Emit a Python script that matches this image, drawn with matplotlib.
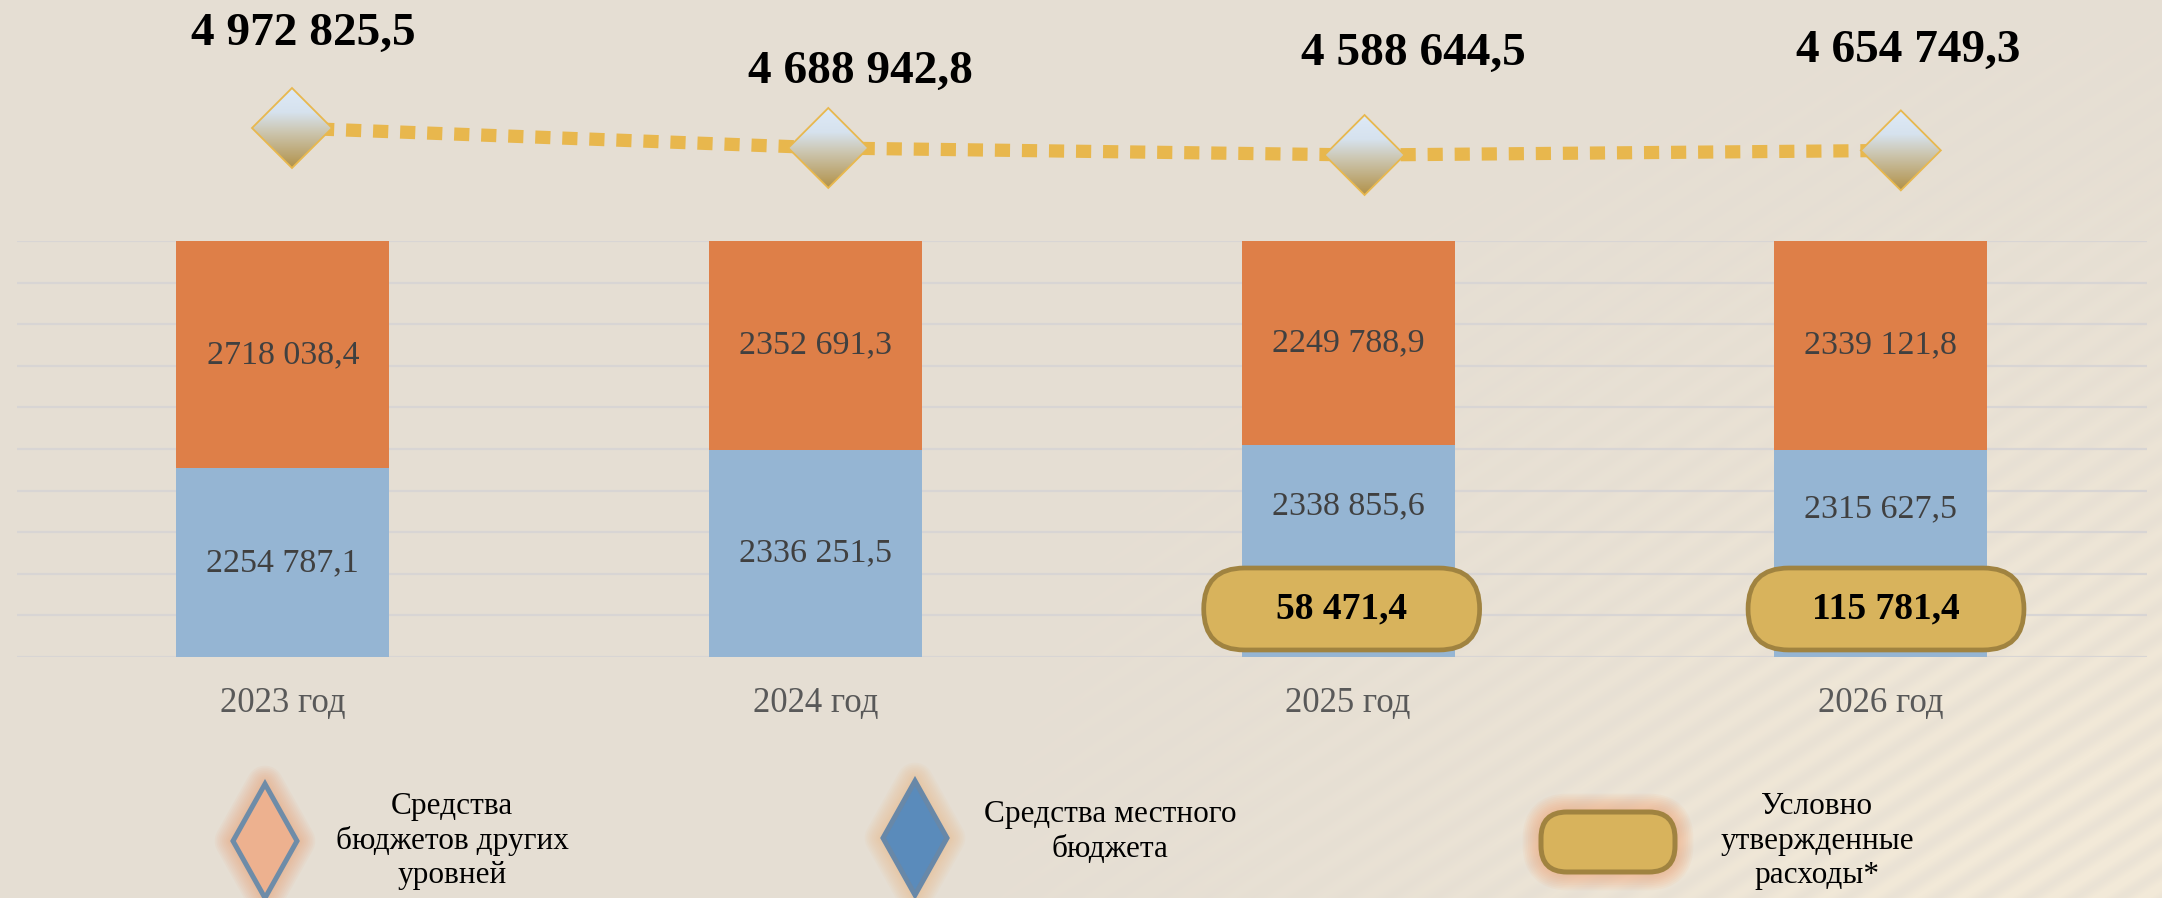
import numpy as np
import matplotlib.pyplot as plt
from matplotlib.patches import Polygon, FancyBboxPatch

# data
years = ['2023 год', '2024 год', '2025 год', '2026 год']
local = [2254787.1, 2336251.5, 2338855.6, 2315627.5]      # Средства местного бюджета
other = [2718038.4, 2352691.3, 2249788.9, 2339121.8]      # Средства бюджетов других уровней
totals = [4972825.5, 4688942.8, 4588644.5, 4654749.3]
conditional = [0, 0, 58471.4, 115781.4]                    # Условно утвержденные расходы

local_lbl = ['2254 787,1', '2336 251,5', '2338 855,6', '2315 627,5']
other_lbl = ['2718 038,4', '2352 691,3', '2249 788,9', '2339 121,8']
total_lbl = ['4 972 825,5', '4 688 942,8', '4 588 644,5', '4 654 749,3']
cond_lbl = ['', '', '58 471,4', '115 781,4']

legend_lbl = ['Средства\nбюджетов других\nуровней', 'Средства местного\nбюджета',
              'Условно\nутвержденные\nрасходы*']

# styles
W, H = 2162, 898
BG = '#E5DED3'
BLUE = '#95B5D3'
ORANGE = '#DE7F48'
GOLD = '#D8B35C'
GOLD_EDGE = '#A08340'
LINE = '#E8B74D'
SERIF = ['Liberation Serif', 'DejaVu Serif']

fig = plt.figure(figsize=(W / 100, H / 100), dpi=100, facecolor=BG)

# background with a soft light patch in the lower right
bgax = fig.add_axes([0, 0, 1, 1])
bgax.axis('off')
yy, xx = np.mgrid[0:H, 0:W]
base = np.array([229, 222, 211]) / 255
light = np.array([242, 233, 216]) / 255
blob = np.exp(-(((xx - 2150) / 700.0) ** 2 + ((yy - 950) / 560.0) ** 2))
streak = 0.7 + 0.3 * np.sin((xx * 0.55 + yy * 0.85) / 4.0)
w = np.clip(blob * streak * 1.15, 0, 1)[..., None]
bgax.imshow(base * (1 - w) + light * w, extent=(0, W, 0, H), aspect='auto')
bgax.set_xlim(0, W)
bgax.set_ylim(0, H)

# main 100% stacked bars
x = np.arange(len(years))
loc_share = np.array(local) / np.array(totals)
oth_share = np.array(other) / np.array(totals)

ax = fig.add_axes([16.5 / W, (H - 657) / H, 2130.5 / W, 416 / H])
ax.set_facecolor('none')
ax.bar(x, loc_share, width=0.4, color=BLUE, zorder=2)
ax.bar(x, oth_share, width=0.4, bottom=loc_share, color=ORANGE, zorder=2)
ax.set_xlim(-0.5, 3.5)
ax.set_ylim(0, 1)
ax.set_yticks(np.arange(0, 1.01, 0.1))
ax.yaxis.grid(True, color='#D8D5D4', lw=1.6)
ax.set_axisbelow(True)
ax.tick_params(left=False, labelleft=False, bottom=False, pad=18)
ax.set_xticks(x, years, fontsize=25, color='#595959', family=SERIF)
for s in ax.spines.values():
    s.set_visible(False)

pill_c, pill_h, pill_w = 0.1154, 0.197, 0.518
pill_dx = [0, 0, -0.012, 0.01]
for i in x:
    ax.text(i, loc_share[i] + oth_share[i] / 2, other_lbl[i], ha='center', va='center',
            fontsize=24.5, color='#404040', family=SERIF, zorder=3)
    if conditional[i]:
        top = pill_c + pill_h / 2
        ax.text(i, (loc_share[i] + top) / 2, local_lbl[i], ha='center', va='center',
                fontsize=24.5, color='#404040', family=SERIF, zorder=3)
        cx = i + pill_dx[i]
        ax.add_patch(FancyBboxPatch((cx - pill_w / 2, pill_c - pill_h / 2), pill_w, pill_h,
                                    boxstyle='round,pad=0,rounding_size=0.0765',
                                    mutation_aspect=1.28, fc=GOLD, ec=GOLD_EDGE, lw=3.4,
                                    zorder=4))
        ax.text(cx, pill_c, cond_lbl[i], ha='center', va='center', fontsize=27,
                fontweight='bold', family=SERIF, zorder=5)
    else:
        ax.text(i, loc_share[i] / 2, local_lbl[i], ha='center', va='center',
                fontsize=24.5, color='#404040', family=SERIF, zorder=3)

# totals line
ax2 = fig.add_axes([16.5 / W, 0.8126, 2130.5 / W, 0.0548])
ax2.axis('off')
ax2.set_xlim(-0.5137, 3.459)
ax2.set_ylim(4.4e6, 5.1e6)
ax2.plot(x, totals, color=LINE, lw=9.5, dashes=(1.15, 0.9), dash_capstyle='butt',
         clip_on=False)
label_offsets = [(8, 60), (23, 47), (35, 65), (5, 64)]
for i in x:
    ax2.annotate(total_lbl[i], (i, totals[i]), xytext=label_offsets[i],
                 textcoords='offset points', ha='center', va='baseline',
                 fontsize=34, fontweight='bold', family=SERIF, annotation_clip=False)

# overlay in pixel coordinates for the gradient diamonds and the legend
ov = fig.add_axes([0, 0, 1, 1])
ov.axis('off')
ov.set_facecolor('none')
ov.set_autoscale_on(False)
ov.set_xlim(0, W)
ov.set_ylim(0, H)

stops = np.array([[222, 234, 247], [214, 226, 238], [204, 198, 176], [178, 146, 74]]) / 255
pos = np.linspace(0, 1, 80)
grad = np.stack([np.interp(pos, [0, 0.3, 0.55, 1], stops[:, c]) for c in range(3)], axis=-1)
grad = grad[:, None, :]

pts = ov.transData.inverted().transform(ax2.transData.transform(np.column_stack([x, totals])))
r = 40
for px, py in pts:
    poly = Polygon([(px, py + r), (px + r, py), (px, py - r), (px - r, py)], closed=True,
                   fc='none', ec='#E8B84E', lw=1.3, zorder=6)
    ov.add_patch(poly)
    im = ov.imshow(grad, extent=(px - r, px + r, py - r, py + r), aspect='auto', zorder=5)
    im.set_clip_path(poly)


def glow(make, color, n=9):
    for k in range(n, 0, -1):
        ov.add_patch(make(fc='none', ec=color, lw=3 + 2.6 * k, alpha=0.07,
                          joinstyle='round', zorder=2))


def diamond(cx, cy, hw, hh):
    return lambda **kw: Polygon([(cx, cy + hh), (cx + hw, cy), (cx, cy - hh), (cx - hw, cy)],
                                closed=True, **kw)


d1 = diamond(265, H - 841, 32, 57)
glow(d1, '#F2A070')
ov.add_patch(d1(fc='#EDB18F', ec='#6E8CA8', lw=3.6, zorder=3))

d2 = diamond(915, H - 838, 32, 57)
glow(d2, '#F2B886')
ov.add_patch(d2(fc='#5A8BBB', ec='#6888A8', lw=3.6, zorder=3))


def pill(**kw):
    return FancyBboxPatch((1541, H - 872), 134, 60,
                          boxstyle='round,pad=0,rounding_size=26', **kw)


glow(pill, '#F2A070')
ov.add_patch(pill(fc=GOLD, ec=GOLD_EDGE, lw=3.6, zorder=3))

legend_pos = [(452, H - 841), (1110, H - 832), (1817, H - 841)]
for (tx, ty), t in zip(legend_pos, legend_lbl):
    ov.text(tx, ty, t, ha='center', va='center', fontsize=22.5, family=SERIF,
            linespacing=1.24, zorder=4)

fig.savefig('out.png', dpi=100, facecolor=BG)
